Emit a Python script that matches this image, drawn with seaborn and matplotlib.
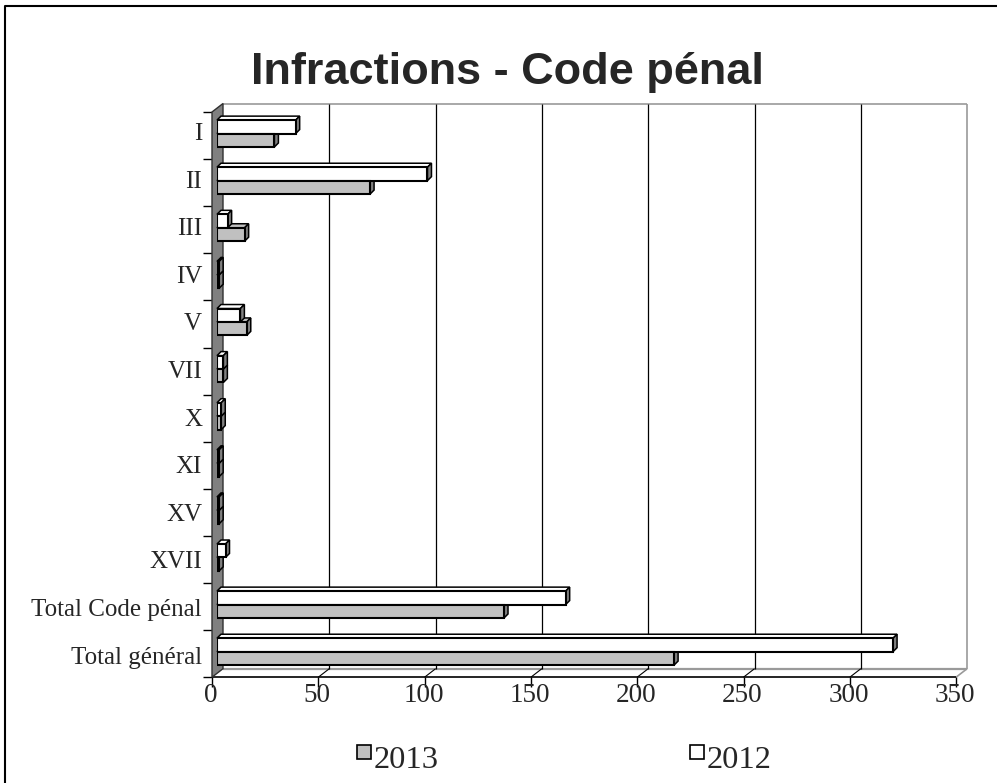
import matplotlib
matplotlib.use("Agg")
import matplotlib.pyplot as plt
from matplotlib.patches import Polygon, Rectangle
from matplotlib.lines import Line2D
import pandas as pd
import seaborn as sns

# ---- data ----
categories = ["I", "II", "III", "IV", "V", "VII", "X", "XI", "XV", "XVII",
              "Total Code pénal", "Total général"]
values_2013 = [27, 72, 13, 1, 14, 3, 2, 1, 1, 1, 135, 215]
values_2012 = [37, 99, 5, 1, 11, 3, 2, 1, 1, 4, 164, 318]
x_ticks = [0, 50, 100, 150, 200, 250, 300, 350]
title = "Infractions - Code pénal"

sns.set_style("white")
plt.rcParams["font.family"] = ["Liberation Serif", "DejaVu Serif"]

W, H = 997, 783
fig = plt.figure(figsize=(W / 100, H / 100), dpi=100)

# pixel geometry of the bar plane
X0, PXU, XMAX = 217, 2.126, 350      # left edge, pixels per unit, axis max
TOP, BAND = 110, 47.1                 # top edge, pixels per category
n = len(categories)

# full-figure overlay in pixel coordinates (title, frame, legend)
ov = fig.add_axes([0, 0, 1, 1])
ov.set_xlim(0, W)
ov.set_ylim(H, 0)
ov.axis("off")

ax = fig.add_axes([X0 / W, 1 - (TOP + BAND * n) / H, XMAX * PXU / W, BAND * n / H])
ax.patch.set_alpha(0)

df = pd.DataFrame({
    "category": categories * 2,
    "year": ["2012"] * n + ["2013"] * n,
    "value": values_2012 + values_2013,
})
sns.barplot(data=df, x="value", y="category", hue="year", hue_order=["2012", "2013"],
            order=categories, orient="h",
            palette={"2012": "#ffffff", "2013": "#c0c0c0"}, saturation=1,
            width=0.57, edgecolor="black", linewidth=1.5, errorbar=None,
            legend=False, ax=ax)
ax.set_xlim(0, XMAX)
ax.set_ylim(n - 0.5, -0.5)
for s in ax.spines.values():
    s.set_visible(False)
ax.set_xlabel("")
ax.set_ylabel("")
ax.set_xticks([])
ax.set_yticks([])

# bar rectangles drawn by seaborn, lowest rows first
bars = [p for p in ax.patches if isinstance(p, Rectangle) and p.get_width() > 0]
bars = sorted(bars, key=lambda p: -p.get_y())


def P(v, c, off):
    """Data point shifted by a pixel offset (right, down)."""
    return (v + off[0] / PXU, c + off[1] / BAND)


FRONT = (-5, 2)
BACK = (6, -6.5)
yt, yb = -0.5, n - 0.5


def seg(p, q, color, lw, z=0.5):
    ax.add_line(Line2D([p[0], q[0]], [p[1], q[1]], color=color, lw=lw,
                       zorder=z, clip_on=False, solid_capstyle="butt"))


# left wall
ax.add_patch(Polygon([P(0, yt, FRONT), P(0, yt, BACK), P(0, yb, BACK), P(0, yb, FRONT)],
                     closed=True, fc="#808080", ec="#303030", lw=1.0, zorder=0.6,
                     clip_on=False))
# back wall outline
wall_gray = "#9a9a9a"
seg(P(0, yt, BACK), P(XMAX, yt, BACK), wall_gray, 1.2)
seg(P(XMAX, yt, BACK), P(XMAX, yb, BACK), wall_gray, 1.2)
seg(P(0, yb, BACK), P(XMAX, yb, BACK), wall_gray, 1.6)
# grid lines on the back wall and floor
for v in x_ticks[1:-1]:
    seg(P(v, yt, BACK), P(v, yb, BACK), "black", 0.9)
    seg(P(v, yb, FRONT), P(v, yb, BACK), "black", 0.8)
seg(P(XMAX, yb, FRONT), P(XMAX, yb, BACK), wall_gray, 1.2)
# front floor edge
seg(P(0, yb, FRONT), P(XMAX, yb, FRONT), "black", 1.2)

# x ticks and labels
for v in x_ticks:
    seg(P(v, yb, FRONT), P(v, yb, (-5, 12)), "black", 1.0)
    ax.text(*P(v, yb, (-6, 27)), str(v), ha="center", va="baseline",
            fontsize=19.5, clip_on=False)
# y tick marks on the wall edge
for k in range(n + 1):
    seg(P(0, k - 0.5, (-14, 2)), P(0, k - 0.5, FRONT), "black", 1.0)

# category labels
for i, name in enumerate(categories):
    ov.text(202, 140 + 47.6 * i, name, ha="right", va="baseline", fontsize=18)

# 3-D faces for each bar (top and right side)
ddx, ddy = 4 / PXU, -4 / BAND
for p in bars:
    x0, y0, w, h = p.get_x(), p.get_y(), p.get_width(), p.get_height()
    p.set_zorder(3)
    ax.add_patch(Polygon([(x0, y0), (x0 + w, y0), (x0 + w + ddx, y0 + ddy), (x0 + ddx, y0 + ddy)],
                         closed=True, fc=p.get_facecolor(), ec="black", lw=1.1,
                         zorder=2, clip_on=False))
    ax.add_patch(Polygon([(x0 + w, y0), (x0 + w, y0 + h), (x0 + w + ddx, y0 + h + ddy),
                          (x0 + w + ddx, y0 + ddy)],
                         closed=True, fc="#808080", ec="black", lw=1.1,
                         zorder=2, clip_on=False))

# title
ov.text(507, 84, title, ha="center", va="baseline", fontsize=32.5,
        fontweight="bold", family="Liberation Sans")

# outer frame
ov.plot([4.5, 4.5, W + 5], [H + 5, 6, 6], color="black", lw=1.5, clip_on=False)

# legend
for x, color, label in [(357, "#c0c0c0", "2013"), (690, "#ffffff", "2012")]:
    ov.add_patch(Rectangle((x, 745), 14, 14, fc=color, ec="black", lw=1.2))
    ov.text(x + 17, 768, label, ha="left", va="baseline", fontsize=23.4)

fig.savefig("out.png", dpi=100)
